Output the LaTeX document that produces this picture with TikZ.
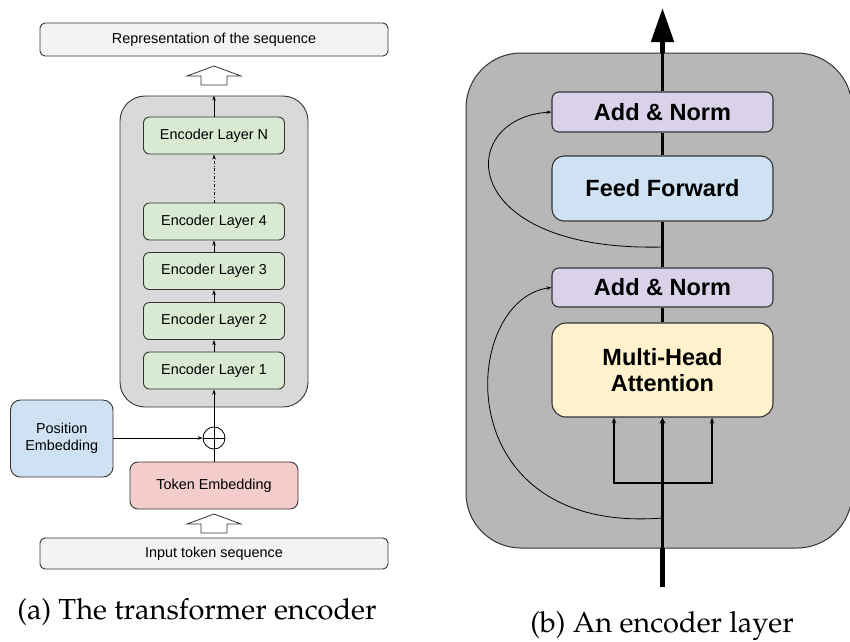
\documentclass[tikz,border=0pt]{standalone}
\usepackage[T1]{fontenc}
\usepackage{fontspec}
\setmainfont{Liberation Sans}
\usetikzlibrary{arrows.meta,calc}
\definecolor{boxline}{HTML}{333333}
\definecolor{seqfill}{HTML}{F3F3F3}
\definecolor{encfill}{HTML}{D9D9D9}
\definecolor{layfill}{HTML}{D9EAD3}
\definecolor{posfill}{HTML}{CFE2F3}
\definecolor{tokfill}{HTML}{F4CCCC}
\definecolor{normfill}{HTML}{D9D2E9}
\definecolor{attfill}{HTML}{FFF2CC}
\definecolor{layerbg}{HTML}{B7B7B7}
\newcommand\capfont{\fontencoding{T1}\fontfamily{ppl}\fontsize{29}{34}\selectfont}
\tikzset{
  box/.style={draw=boxline, line width=0.9pt, rounded corners=5pt, inner sep=0pt,
    font=\fontsize{14.4}{17}\selectfont, align=center},
  seqbox/.style={box, fill=seqfill, minimum width=348pt},
  laybox/.style={box, fill=layfill, minimum width=141pt, minimum height=37pt, rounded corners=6pt},
  bigbox/.style={draw=boxline, line width=1.1pt, rounded corners=7pt, inner sep=0pt,
    minimum width=221pt, font=\fontsize{23.5}{27}\selectfont\bfseries, align=center},
  thin/.style={line width=0.8pt, draw=black},
  sarrow/.style={thin, -{Stealth[length=5pt,width=3.5pt]}},
  hollowup/.pic={\draw[line width=0.8pt, draw=boxline, fill=white]
    (0,0) -- (27,10) -- (13,10) -- (13,19) -- (-13,19) -- (-13,10) -- (-27,10) -- cycle;},
}
\begin{document}
\begin{tikzpicture}[x=1pt, y=-1pt]
\useasboundingbox (0,0) rectangle (850,641);

% ---------- transformer encoder ----------
\node[seqbox, minimum height=33pt] (rep) at (214,39.5) {Representation of the sequence};
\node[seqbox, minimum height=31pt] (inp) at (214,553.5) {Input token sequence};
\pic at (214,66) {hollowup};
\pic at (214,514) {hollowup};

\node[draw=boxline, line width=0.9pt, fill=encfill, rounded corners=25pt,
      minimum width=188pt, minimum height=311pt] (enc) at (214,251.5) {};

\node[laybox] (lN) at (214,135.5) {Encoder Layer N};
\node[laybox] (l4) at (214,221.5) {Encoder Layer 4};
\node[laybox] (l3) at (214,271) {Encoder Layer 3};
\node[laybox] (l2) at (214,321) {Encoder Layer 2};
\node[laybox] (l1) at (214,370.5) {Encoder Layer 1};

\node[box, fill=posfill, minimum width=102.5pt, minimum height=77pt, rounded corners=10pt]
  (pos) at (61.75,438.5) {Position\\Embedding};
\node[box, fill=tokfill, minimum width=168pt, minimum height=47pt, rounded corners=8pt]
  (tok) at (214,485.5) {Token Embedding};
\node[draw=black, line width=0.8pt, circle, minimum size=22pt, inner sep=0pt] (sum) at (214,438) {};

\draw[sarrow] (l1.north) -- (l2.south);
\draw[sarrow] (l2.north) -- (l3.south);
\draw[sarrow] (l3.north) -- (l4.south);
\draw[sarrow, dash dot] (l4.north) -- (lN.south);
\draw[sarrow] (lN.north) -- (enc.north);
\draw[thin] (tok.north) -- (sum.north);
\draw[thin] (sum.west) -- (sum.east);
\draw[sarrow] (sum.north) -- (l1.south);
\draw[sarrow] (pos.east |- sum.west) -- (sum.west);

% ---------- one encoder layer ----------
\node[draw=boxline, line width=1pt, fill=layerbg, rounded corners=55pt,
      minimum width=386pt, minimum height=495pt] (layer) at (659,300.5) {};

\coordinate (src) at (662.5,587);
\coordinate (lin) at (662.5,548);
\coordinate (lout) at (662.5,53);
\coordinate (out) at (662.5,8);
\coordinate (fork) at (662.5,483);
\coordinate (res1) at (662.5,247);
\coordinate (res2) at (662.5,518);

\node[bigbox, fill=normfill, minimum height=40pt] (an2) at (662.5,112) {Add \& Norm};
\node[bigbox, fill=posfill, minimum height=65pt, rounded corners=12pt] (ff) at (662.5,188.5) {Feed Forward};
\node[bigbox, fill=normfill, minimum height=39pt] (an1) at (662.5,287.5) {Add \& Norm};
\node[bigbox, fill=attfill, minimum height=94pt, rounded corners=14pt] (mha) at (662.5,370) {Multi-Head\\[-1pt]Attention};

% main path
\draw[line width=5pt] (src) -- (lin);
\draw[line width=2.7pt, -{Stealth[length=6pt,width=6pt]}] (lin) -- (mha.south);
\draw[line width=2.7pt] (mha.north) -- (an1.south);
\draw[line width=2.7pt] (an1.north) -- (ff.south);
\draw[line width=2.7pt] (ff.north) -- (an2.south);
\draw[line width=2.7pt] (an2.north) -- (lout);
\draw[line width=5pt, -{Triangle[length=34pt,width=22pt]}] (lout) -- (out);

% query / key / value branches
\draw[line width=1.1pt, -{Stealth[length=6pt,width=4.5pt]}] (fork) -| ([xshift=-48.5pt]mha.south);
\draw[line width=1.1pt, -{Stealth[length=6pt,width=4.5pt]}] (fork) -| ([xshift=49.5pt]mha.south);

% residual connections
\draw[sarrow] (res1) .. controls (455,252) and (455,118) .. (an2.west);
\draw[sarrow] (res2) .. controls (445,535) and (460,300) .. (an1.west);

% ---------- captions ----------
\node[anchor=base, inner sep=0pt] (capa) at (197,619) {\capfont (a) The transformer encoder};
\node[anchor=base, inner sep=0pt] (capb) at (662,632) {\capfont (b) An encoder layer};
\end{tikzpicture}
\end{document}
